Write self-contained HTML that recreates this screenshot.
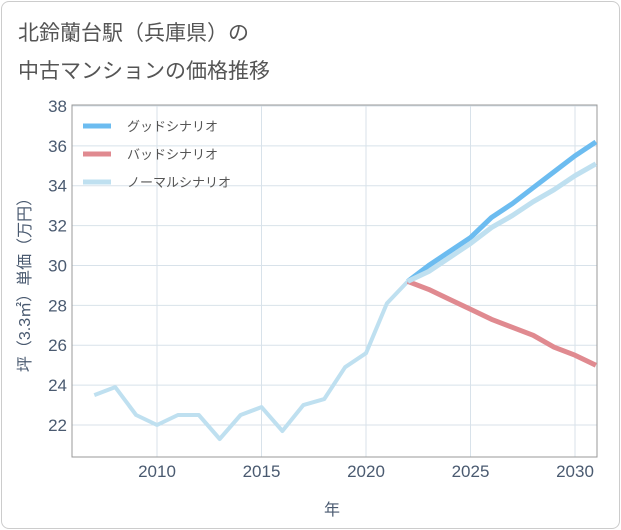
<!DOCTYPE html>
<html><head><meta charset="utf-8"><style>
body{margin:0;background:#fff;}
.card{position:absolute;left:1px;top:1px;width:617px;height:526px;border:1px solid #ccc;border-radius:8px;background:#fff;}
svg{position:absolute;left:0;top:0;}
text{font-family:"Liberation Sans","Noto Sans CJK JP",sans-serif;}
</style></head><body>
<div class="card"></div>
<svg width="621" height="530" id="chart">
<text x="18" y="40" font-size="21" fill="#555">北鈴蘭台駅（兵庫県）の</text>
<text x="18" y="78" font-size="21" fill="#555">中古マンションの価格推移</text>
<g id="grid"></g><g id="lines"></g><g id="legend"></g>
<text x="332" y="515" font-size="16" fill="#4a5a70" text-anchor="middle">年</text>
<text transform="translate(30,281) rotate(-90)" font-size="16" fill="#4a5a70" text-anchor="middle">坪（3.3㎡）単価（万円）</text>
</svg>
<script>
const histYears=[2007,2008,2009,2010,2011,2012,2013,2014,2015,2016,2017,2018,2019,2020,2021,2022];
const histValues=[23.5,23.9,22.5,22.0,22.5,22.5,21.3,22.5,22.9,21.7,23.0,23.3,24.9,25.6,28.1,29.2];
const futYears=[2022,2023,2024,2025,2026,2027,2028,2029,2030,2031];
const goodValues=[29.2,30.0,30.7,31.4,32.4,33.1,33.9,34.7,35.5,36.2];
const badValues=[29.2,28.8,28.3,27.8,27.3,26.9,26.5,25.9,25.5,25.0];
const normalValues=[29.2,29.7,30.4,31.1,31.9,32.5,33.2,33.8,34.5,35.1];
const yTicks=[22,24,26,28,30,32,34,36,38];
const xTicks=[2010,2015,2020,2025,2030];
const L=72,R=597,T=105,B=457;
const xs=v=>157+(v-2010)*20.9;
const ys=v=>425-(v-22)*19.94;
const NS="http://www.w3.org/2000/svg";
function mk(tag,attrs,parent){const e=document.createElementNS(NS,tag);for(const k in attrs)e.setAttribute(k,attrs[k]);parent.appendChild(e);return e;}
const grid=document.getElementById('grid'),lines=document.getElementById('lines'),legend=document.getElementById('legend');
yTicks.forEach(v=>{
 const l=mk('line',{x1:L,x2:R,y1:ys(v),y2:ys(v),stroke:'#d8e2ea','stroke-width':1},grid);
 
 
 const t=mk('text',{x:L-5,y:ys(v)+6,'font-size':17,fill:'#4a5a70','text-anchor':'end'},grid);
 t.textContent=v;
 
 
});
xTicks.forEach(v=>{
 const l=mk('line',{x1:xs(v),x2:xs(v),y1:T,y2:B,stroke:'#d8e2ea','stroke-width':1},grid);
 
 
 const t=mk('text',{x:xs(v),y:B+20,'font-size':17,fill:'#4a5a70','text-anchor':'middle'},grid);
 t.textContent=v;
 
 
});
const frame=mk('rect',{x:L,y:T,width:R-L,height:B-T,fill:'none',stroke:'#999','stroke-width':1},grid);


function path(xv,yv,color,w,name){
 const d=xv.map((x,i)=>(i?'L':'M')+xs(x).toFixed(1)+','+ys(yv[i]).toFixed(1)).join('');
 const p=mk('path',{d:d,fill:'none',stroke:color,'stroke-width':w,'stroke-linejoin':'round'},lines);
 
 
}
path(histYears,histValues,'#bfe0f0',4,'history-line');
path(futYears,badValues,'#e08a90',5,'bad-scenario-line');
path(futYears,goodValues,'#6cbcf0',5,'good-scenario-line');
path(futYears,normalValues,'#bfe0f0',5,'normal-scenario-line');
const leg=[['グッドシナリオ','#6cbcf0'],['バッドシナリオ','#e08a90'],['ノーマルシナリオ','#bfe0f0']];
leg.forEach((e,i)=>{
 const y=126+i*28;
 const l=mk('line',{x1:83,x2:111,y1:y,y2:y,stroke:e[1],'stroke-width':5},legend);
 
 
 const t=mk('text',{x:127,y:y+5,'font-size':13,fill:'#555'},legend);
 t.textContent=e[0];
 
 
});
</script>
</body></html>
